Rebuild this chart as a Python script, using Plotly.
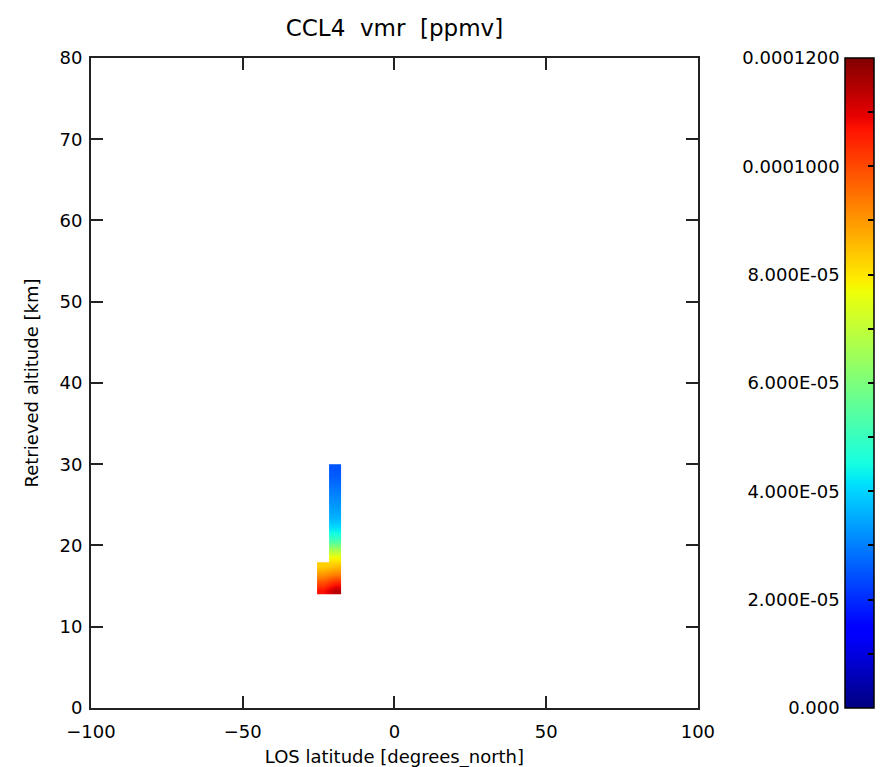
import numpy as np
import plotly.graph_objects as go

# LOS latitude of the two profiles [degrees_north]
latitude = [-23.5, -19.5]
# retrieval altitude grid [km]
altitude = [14.5, 15.5, 16.5, 17.5, 18.5, 19.5, 20.5, 21.5,
            22.5, 23.5, 24.5, 25.5, 26.5, 27.5, 28.5, 29.5]
# CCL4 vmr [ppmv] for each profile, bottom to top
vmr_south = [1.07e-4, 9.9e-5, 9.0e-5, 8.3e-5]
vmr_north = [1.14e-4, 1.04e-4, 9.3e-5, 8.5e-5, 7.7e-5, 6.6e-5, 5.3e-5, 4.5e-5,
             4.0e-5, 3.6e-5, 3.4e-5, 3.2e-5, 3.0e-5, 2.8e-5, 2.6e-5, 2.5e-5]

cb_tickvals = [0, 2e-5, 4e-5, 6e-5, 8e-5, 1e-4, 1.2e-4]
cb_ticktext = ['0.000', '2.000E-05', '4.000E-05', '6.000E-05',
               '8.000E-05', '0.0001000', '0.0001200']

south = vmr_south + [np.nan] * (len(altitude) - len(vmr_south))
z = np.array([south, vmr_north]).T

jet = [
    [0.0, 'rgb(0,0,128)'], [0.11, 'rgb(0,0,255)'], [0.125, 'rgb(0,0,255)'],
    [0.34, 'rgb(0,219,255)'], [0.35, 'rgb(0,230,247)'], [0.375, 'rgb(21,255,226)'],
    [0.64, 'rgb(239,255,8)'], [0.65, 'rgb(247,245,0)'], [0.66, 'rgb(255,236,0)'],
    [0.89, 'rgb(255,19,0)'], [0.91, 'rgb(232,0,0)'], [1.0, 'rgb(128,0,0)'],
]

font = dict(family='DejaVu Sans', size=18, color='black')

ydom = [0.00762, 0.99848]

fig = go.Figure()
fig.add_trace(go.Heatmap(
    x=latitude, y=altitude, z=z,
    colorscale=jet, zmin=0, zmax=1.2e-4,
    zsmooth='best', hoverongaps=False,
    colorbar=dict(
        x=0.9589, xanchor='left', xpad=0,
        y=0.50305, yanchor='middle', ypad=0,
        len=0.99085, thickness=29,
        outlinecolor='black', outlinewidth=1.5,
        showticklabels=False,
        ticks='inside', tick0=0, dtick=1e-5,
        ticklen=6, tickwidth=1.5, tickcolor='black',
    ),
))

axis_style = dict(
    showline=True, linecolor='#222', linewidth=2, mirror='ticks',
    ticks='inside', ticklen=12, tickwidth=1.5, tickcolor='#222',
    showgrid=False, zeroline=False, tickfont=font,
)

fig.update_layout(
    width=886, height=767,
    margin=dict(l=83, r=0, t=49, b=62),
    paper_bgcolor='white', plot_bgcolor='white',
    font=font,
    title=dict(text='CCL4  vmr  [ppmv]', x=0.3861, xref='paper', xanchor='center',
               y=1 - 20 / 767, yref='container', yanchor='middle',
               font=dict(family='DejaVu Sans', size=23, color='black')),
    xaxis=dict(axis_style, domain=[0, 0.7721], range=[-100, 100],
               tickvals=[-100, -50, 0, 50, 100], ticklabelstandoff=6,
               title=dict(text='LOS latitude [degrees_north]', standoff=10,
                          font=dict(size=18))),
    yaxis=dict(axis_style, domain=ydom, range=[0, 80], dtick=10,
               ticklabelstandoff=3,
               title=dict(text='Retrieved altitude [km]', standoff=16,
                          font=dict(size=18))),
    # axis that carries the colour bar labels on its left side
    xaxis2=dict(domain=[0.9589, 0.995], anchor='y2', visible=False, range=[0, 1]),
    yaxis2=dict(domain=ydom, anchor='x2', side='left',
                range=[0, 1.2e-4], tickmode='array',
                tickvals=cb_tickvals, ticktext=cb_ticktext,
                ticks='', showline=False, showgrid=False, zeroline=False,
                ticklabelstandoff=4, tickfont=font),
)
fig.add_trace(go.Scatter(x=[None], y=[None], xaxis='x2', yaxis='y2',
                         showlegend=False, hoverinfo='skip'))

fig.write_html('out.html')
